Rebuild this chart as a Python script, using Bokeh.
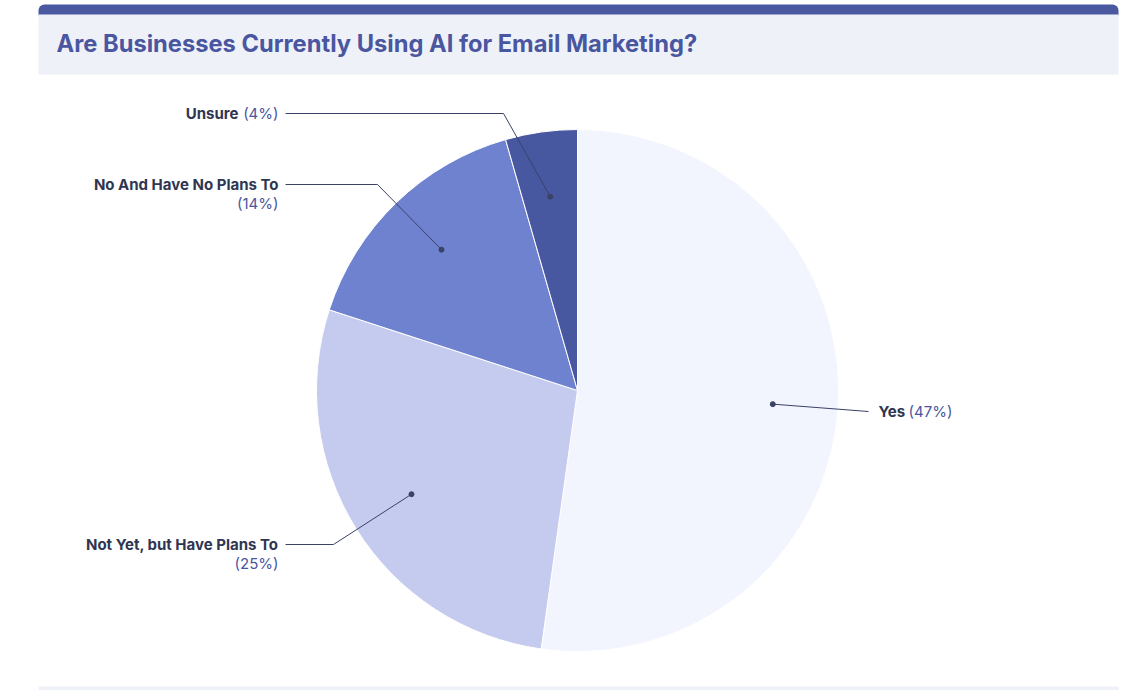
import numpy as np
from bokeh.plotting import figure
from bokeh.models import Range1d
from bokeh.core.properties import value
from bokeh.embed import file_html
from bokeh.resources import INLINE

# ---- data ----
title = "Are Businesses Currently Using AI for Email Marketing?"
categories = ["Yes", "Not Yet, but Have Plans To", "No And Have No Plans To", "Unsure"]
percents = [47, 25, 14, 4]
colors = ["#f2f5fd", "#c5cbee", "#6f82d0", "#4858a0"]

# ---- layout (page pixels) ----
W, H = 1125, 690
OX, OY = 0, 0
CX, CY, R = 577, 390, 261
FONT = value("Inter")
NAME_COLOR = "#2f3652"
PCT_COLOR = "#4a56a0"
LINE_COLOR = "#3a4266"
FS = "15px"
# elbow point of each leader line, label side, label anchor, two-line flag
label_layout = [
    dict(elbow=(868, 411), side="right", anchor=(878, 411), two_lines=False),
    dict(elbow=(333, 544), side="left", anchor=(278, 544), two_lines=True),
    dict(elbow=(377, 184), side="left", anchor=(278, 184), two_lines=True),
    dict(elbow=(503, 113), side="left", anchor=(278, 113), two_lines=False),
]
PCT_GAP = 40  # width reserved for "(4%)" on single-line left labels
NAME_GAP = 30  # width of "Yes " on right label


def Y(py):
    return -py


p = figure(width=W, height=H, x_range=Range1d(OX, OX + W), y_range=Range1d(-(OY + H), -OY),
           output_backend="svg", toolbar_location=None, min_border=0,
           x_axis_location=None, y_axis_location=None)
p.grid.visible = False
p.outline_line_color = None
p.background_fill_color = "white"
p.border_fill_color = "white"

# header card
p.quad(left=[38], right=[1118], top=[Y(4)], bottom=[Y(20)], fill_color="#4a58a0", line_color=None,
       border_radius=6)
p.quad(left=[38], right=[1118], top=[Y(14)], bottom=[Y(74)], fill_color="#eef2f8", line_color=None)
p.quad(left=[38], right=[1118], top=[Y(686)], bottom=[Y(690)], fill_color="#eef2f8", line_color=None)
p.text(x=[56], y=[Y(43)], text=[title], text_font=FONT, text_font_size="23.7px",
       text_font_style="bold", text_color="#4a56a0", text_baseline="middle", text_align="left")

# pie
vals = np.array(percents, dtype=float)
frac = vals / vals.sum()
cum = np.concatenate([[0], np.cumsum(frac)])
start = np.pi / 2 - 2 * np.pi * cum[:-1]
end = np.pi / 2 - 2 * np.pi * cum[1:]
p.wedge(x=[CX] * len(vals), y=[Y(CY)] * len(vals), radius=R, start_angle=list(start), end_angle=list(end),
        direction="clock", fill_color=colors, line_color="white", line_width=1)

# labels
mid = (start + end) / 2
for i, cat in enumerate(categories):
    lay = label_layout[i]
    dx = CX + 0.75 * R * np.cos(mid[i])
    dy = Y(CY) + 0.75 * R * np.sin(mid[i])
    ex, ey = lay["elbow"]
    ax, ay = lay["anchor"]
    pct = f"({percents[i]}%)"
    if lay["side"] == "right":
        xs = [dx, ex]
        ys = [dy, Y(ey)]
    else:
        xs = [dx, ex, ax + 7]
        ys = [dy, Y(ey), Y(ey)]
    p.line(xs, ys, line_color=LINE_COLOR, line_width=1)
    p.scatter([dx], [dy], size=5, fill_color=LINE_COLOR, line_color=LINE_COLOR)
    if lay["side"] == "right":
        p.text([ax], [Y(ay)], text=[cat], text_font=FONT, text_font_size=FS, text_font_style="bold",
               text_color=NAME_COLOR, text_baseline="middle", text_align="left")
        p.text([ax + NAME_GAP], [Y(ay)], text=[pct], text_font=FONT, text_font_size=FS,
               text_color=PCT_COLOR, text_baseline="middle", text_align="left")
    elif lay["two_lines"]:
        p.text([ax], [Y(ay)], text=[cat], text_font=FONT, text_font_size=FS, text_font_style="bold",
               text_color=NAME_COLOR, text_baseline="middle", text_align="right")
        p.text([ax], [Y(ay + 19)], text=[pct], text_font=FONT, text_font_size=FS,
               text_color=PCT_COLOR, text_baseline="middle", text_align="right")
    else:
        p.text([ax], [Y(ay)], text=[pct], text_font=FONT, text_font_size=FS,
               text_color=PCT_COLOR, text_baseline="middle", text_align="right")
        p.text([ax - PCT_GAP], [Y(ay)], text=[cat], text_font=FONT, text_font_size=FS,
               text_font_style="bold", text_color=NAME_COLOR, text_baseline="middle", text_align="right")

open("out.html", "w").write(file_html(p, INLINE))
